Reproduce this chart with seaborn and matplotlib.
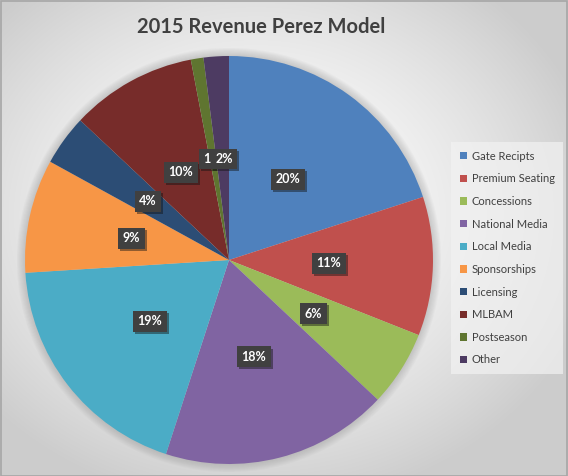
import numpy as np
import matplotlib
matplotlib.use("Agg")
import matplotlib.pyplot as plt
import matplotlib.patheffects as pe
import seaborn as sns

# revenue shares (percent)
categories = ["Gate Recipts", "Premium Seating", "Concessions", "National Media",
              "Local Media", "Sponsorships", "Licensing", "MLBAM", "Postseason", "Other"]
shares = [20, 11, 6, 18, 19, 9, 4, 10, 1, 2]
pct_labels = ["20%", "11%", "6%", "18%", "19%", "9%", "4%", "10%", "1", "2%"]
colors = ["#4F81BD", "#C0504D", "#9BBB59", "#8064A2", "#4BACC6",
          "#F79646", "#2C4D75", "#772C2A", "#5F7530", "#4D3B62"]

sns.set_theme(style="white")
plt.rcParams["font.family"] = ["Lato", "DejaVu Sans"]

W, H = 568, 476
fig = plt.figure(figsize=(W / 100, H / 100), dpi=100)

# radial grey background like the Excel chart area
bg = fig.add_axes([0, 0, 1, 1], zorder=0)
yy, xx = np.mgrid[0:H, 0:W]
d = np.hypot((xx - W * 0.45) / (W * 0.62), (yy - H * 0.45) / (H * 0.62))
g = 1.0 - 0.2 * np.clip(d, 0, 1) ** 1.6
bg.imshow(np.dstack([g, g, g]), extent=[0, 1, 0, 1], aspect="auto")
bg.add_patch(plt.Rectangle((0.001, 0.001), 0.997, 0.996, fill=False,
                           ec="#a6a6a6", lw=1.2, transform=bg.transAxes))
bg.set_axis_off()

cx, cy, r = 229, 260, 204
lim = 1.04
hr = r * lim
ax = fig.add_axes([(cx - hr) / W, (H - cy - hr) / H, 2 * hr / W, 2 * hr / H], zorder=1)

# soft glow behind the pie
for k in range(8):
    ax.add_patch(plt.Circle((0, 0), 1.0 + 0.005 * (k + 1), color="#808080",
                            alpha=0.045, lw=0, zorder=0))

pal = sns.color_palette(colors)
wedges, _ = ax.pie(shares, colors=pal, startangle=90, counterclock=False,
                   radius=1, wedgeprops=dict(lw=0, edgecolor="none"))
ax.set_xlim(-lim, lim)
ax.set_ylim(-lim, lim)
ax.set_aspect("equal")
ax.set_axis_off()

# data labels in dark boxes
for i, (w, lab) in enumerate(zip(wedges, pct_labels)):
    ang = np.deg2rad((w.theta1 + w.theta2) / 2)
    x, y = 0.49 * np.cos(ang), 0.49 * np.sin(ang)
    if i == 8:
        x, y = -0.11, 0.495
    if i == 9:
        x, y = -0.025, 0.495
    t = ax.text(x, y, lab, ha="center", va="center", color="white",
                fontsize=9, fontweight="bold",
                bbox=dict(boxstyle="square,pad=0.35", fc="#404040", ec="none"))
    t.get_bbox_patch().set_path_effects(
        [pe.SimplePatchShadow(offset=(1.5, -1.5), alpha=0.45), pe.Normal()])

fig.text(261 / W, 0.943, "2015 Revenue Perez Model", ha="center", va="center",
         fontsize=14.5, fontweight="bold", color="#404040")

leg = fig.legend(wedges, categories, loc="center left",
                 bbox_to_anchor=(451 / W, 1 - 258 / H), frameon=True,
                 fontsize=8, labelcolor="#404040", handlelength=0.65,
                 handleheight=0.65, handletextpad=0.4, labelspacing=1.05,
                 borderpad=0.8, fancybox=False, borderaxespad=0)
leg.get_frame().set_facecolor("#f2f2f2")
leg.get_frame().set_edgecolor("none")
leg.get_frame().set_alpha(0.7)

fig.savefig("out.png", dpi=100)
